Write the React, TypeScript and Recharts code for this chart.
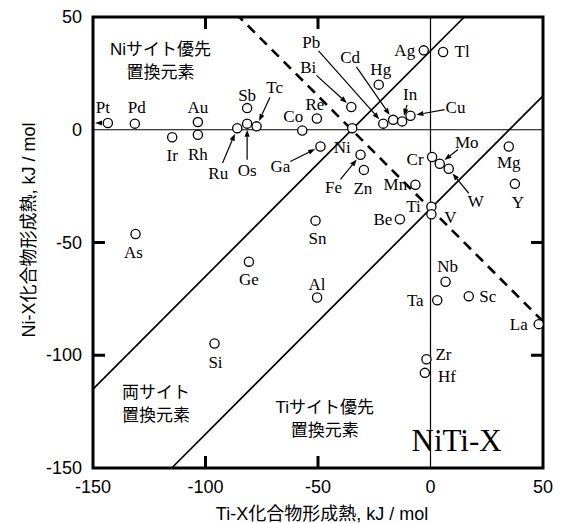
import {
  ScatterChart,
  Scatter,
  XAxis,
  YAxis,
  ReferenceLine,
  ReferenceArea,
  ReferenceDot,
} from "recharts";

// heat of formation, kJ/mol
const elements = [
  "Pt", "Pd", "Au", "Rh", "Ir", "Sb", "Ru", "Os", "Tc", "Co", "Re", "Ga",
  "Bi", "Pb", "Cd", "Hg", "In", "Cu", "Ag", "Tl", "Ni", "Mo", "Cr", "W",
  "Mg", "Fe", "Zn", "Mn", "Ti", "V", "Be", "Sn", "Y", "Nb", "Ta", "Sc",
  "La", "Al", "As", "Ge", "Si", "Zr", "Hf",
];
const tiX = [
  -143.4, -131.4, -103.4, -103.4, -114.8, -81.5, -85.9, -81.5, -77.3, -57.0, -50.5, -48.9,
  -35.2, -21.0, -16.6, -23.0, -12.6, -8.9, -3.0, 5.6, -34.8, 4.1, 0.7, 8.1,
  34.8, -31.1, -29.6, -6.7, 0.4, 0.4, -13.6, -51.1, 37.5, 6.7, 3.0, 17.0,
  48.1, -50.4, -131.1, -80.7, -96.0, -1.8, -2.5,
];
const niX = [
  3.0, 2.7, 3.4, -2.2, -3.3, 9.6, 0.7, 2.7, 1.5, -0.3, 5.0, -7.4,
  10.1, 2.7, 4.4, 20.0, 3.7, 6.2, 35.2, 34.5, 0.7, -15.1, -12.1, -17.3,
  -7.4, -11.1, -17.8, -24.4, -34.1, -37.5, -39.7, -40.3, -24.0, -67.4, -75.6, -73.8,
  -86.2, -74.4, -46.2, -58.5, -94.8, -101.8, -107.8,
];

const axisTicks = [-150, -100, -50, 0, 50];
const innerTicks = [-100, -50];
const LO = -150;
const HI = 50;

// site preference boundaries, y = slope * x + intercept
const boundaries = [
  { slope: 1, intercept: 35, dashed: false },
  { slope: 1, intercept: -35, dashed: false },
  { slope: -1, intercept: -35, dashed: true },
];

const regionNotes = [
  { x: -120, y: 31, lines: ["Niサイト優先", "置換元素"] },
  { x: -122, y: -121, lines: ["両サイト", "置換元素"] },
  { x: -47, y: -128, lines: ["Tiサイト優先", "置換元素"] },
];

// label offset from the circle, in px; true = drawn with an arrow
const labelPlace: Record<string, [number, number, boolean?]> = {
  Pt: [-5, -15], Pd: [2, -16], Au: [0, -15], Rh: [0, 20], Ir: [0, 18],
  Sb: [0, -13], Ru: [-19, 45, true], Os: [0, 47, true], Tc: [18, -39, true],
  Co: [-9, -14], Re: [-2, -14], Ga: [-40, 20, true], Bi: [-43, -39, true],
  Pb: [-72, -81, true], Cd: [-43, -62, true], Hg: [2, -15], In: [8, -27, true],
  Cu: [45, -8, true], Ag: [-19, 0], Tl: [19, 0], Ni: [-10, 19],
  Mo: [27, -21, true], Cr: [-17, 2], W: [27, 33, true], Mg: [0, 16],
  Fe: [-27, 33, true], Zn: [-1, 19], Mn: [-20, 0], Ti: [-18, 0], V: [19, 3],
  Be: [-17, 0], Sn: [2, 18], Y: [3, 19], Nb: [2, -15], Ta: [-22, 0],
  Sc: [19, 0], La: [-20, 0], Al: [0, -13], As: [-2, 19], Ge: [0, 18],
  Si: [1, 19], Zr: [17, -5], Hf: [22, 4],
};

const W = 563;
const H = 523;
const margin = { top: 17, right: 20, bottom: 25, left: 33 };
const PLOT_LEFT = 93;
const TICK_PX = 12;

const SANS = "'Liberation Sans', 'Noto Sans CJK JP', sans-serif";
const SERIF = "'Liberation Serif', serif";

const data = elements.map((name, i) => ({ name, x: tiX[i], y: niX[i] }));

function clip(m: number, b: number) {
  const pts: { x: number; y: number }[] = [];
  for (const x of [LO, HI]) {
    const y = m * x + b;
    if (y >= LO && y <= HI) pts.push({ x, y });
  }
  for (const y of [LO, HI]) {
    const x = (y - b) / m;
    if (x > LO && x < HI) pts.push({ x, y });
  }
  return pts.slice(0, 2);
}

// frame with inward ticks on all four sides
const Frame = (p: any) => {
  const { x, y, width, height } = p;
  const fx = (t: number) => x + ((t - LO) / (HI - LO)) * width;
  const fy = (t: number) => y + height - ((t - LO) / (HI - LO)) * height;
  let d = "";
  innerTicks.forEach((t) => {
    const tx = fx(t);
    const ty = fy(t);
    d += `M${tx},${y + height}v${-TICK_PX}M${tx},${y}v${TICK_PX}`;
    d += `M${x},${ty}h${TICK_PX}M${x + width},${ty}h${-TICK_PX}`;
  });
  return (
    <g>
      <rect x={x} y={y} width={width} height={height} fill="none" stroke="#000" strokeWidth={3} />
      <path d={d} fill="none" stroke="#000" strokeWidth={3} />
    </g>
  );
};

function Arrow({ x1, y1, x2, y2 }: { x1: number; y1: number; x2: number; y2: number }) {
  const len = Math.hypot(x2 - x1, y2 - y1);
  const ux = (x2 - x1) / len;
  const uy = (y2 - y1) / len;
  const bx = x2 - ux * 7;
  const by = y2 - uy * 7;
  return (
    <g>
      <line x1={x1} y1={y1} x2={bx} y2={by} stroke="#000" strokeWidth={1.2} />
      <polygon
        points={`${x2},${y2} ${bx - uy * 2.6},${by + ux * 2.6} ${bx + uy * 2.6},${by - ux * 2.6}`}
        fill="#000"
      />
    </g>
  );
}

const ElementMark = (props: any) => {
  const { cx, cy, payload } = props;
  const [dx, dy, withArrow] = labelPlace[payload.name] || [0, -14];
  const lx = cx + dx;
  const ly = cy + dy;
  let arrow = null;
  if (withArrow) {
    const d = Math.hypot(dx, dy);
    const ux = -dx / d;
    const uy = -dy / d;
    arrow = (
      <Arrow x1={lx + ux * 11} y1={ly + uy * 11} x2={cx - ux * 6} y2={cy - uy * 6} />
    );
  }
  return (
    <g>
      {payload.name === "Pt" && (
        <Arrow x1={cx - 6} y1={cy} x2={PLOT_LEFT + 2} y2={cy} />
      )}
      {arrow}
      <circle cx={cx} cy={cy} r={4.6} fill="#fff" stroke="#000" strokeWidth={1.3} />
      <text
        x={lx}
        y={ly}
        textAnchor="middle"
        dominantBaseline="central"
        fontFamily={SERIF}
        fontSize={17}
        fill="#000"
      >
        {payload.name}
      </text>
    </g>
  );
};

const XTick = ({ x, y, payload }: any) => (
  <text x={x} y={y + 19} textAnchor="middle" dominantBaseline="central" fontFamily={SANS} fontSize={18} fill="#000">
    {payload.value}
  </text>
);

const YTick = ({ x, y, payload }: any) => (
  <text x={x - 11} y={y} textAnchor="end" dominantBaseline="central" fontFamily={SANS} fontSize={18} fill="#000">
    {payload.value}
  </text>
);

const NoteShape = (lines: string[]) => (p: any) => (
  <text x={p.cx} y={p.cy} textAnchor="middle" fontFamily={SANS} fontSize={17} fill="#000">
    {lines.map((t, i) => (
      <tspan key={i} x={p.cx} dy={i === 0 ? -5 : 23}>
        {t}
      </tspan>
    ))}
  </text>
);

export default function App() {
  return (
    <div style={{ position: "absolute", left: 0, top: 0, width: W, height: H, background: "#fff" }}>
      <ScatterChart width={W} height={H} margin={margin}>
        <XAxis
          type="number"
          dataKey="x"
          domain={[LO, HI]}
          ticks={axisTicks}
          interval={0}
          height={30}
          tickSize={0}
          tickMargin={0}
          tickLine={false}
          axisLine={false}
          tick={<XTick />}
          label={{
            content: () => (
              <text x={322} y={514} textAnchor="middle" dominantBaseline="central" fontFamily={SANS} fontSize={18} fill="#000">
                Ti-X化合物形成熱, kJ / mol
              </text>
            ),
          }}
        />
        <YAxis
          type="number"
          dataKey="y"
          domain={[LO, HI]}
          ticks={axisTicks}
          interval={0}
          width={60}
          tickSize={0}
          tickMargin={0}
          tickLine={false}
          axisLine={false}
          tick={<YTick />}
          label={{
            content: () => (
              <text
                x={29}
                y={230}
                transform="rotate(-90 29 230)"
                textAnchor="middle"
                dominantBaseline="central"
                fontFamily={SANS}
                fontSize={18}
                fill="#000"
              >
                Ni-X化合物形成熱, kJ / mol
              </text>
            ),
          }}
        />
        <ReferenceLine x={0} stroke="#000" strokeWidth={1.2} />
        <ReferenceLine y={0} stroke="#000" strokeWidth={1.2} />
        {boundaries.map((b, i) => (
          <ReferenceLine
            key={i}
            segment={clip(b.slope, b.intercept)}
            stroke="#000"
            strokeWidth={b.dashed ? 2.6 : 1.7}
            strokeDasharray={b.dashed ? "10 7" : undefined}
            ifOverflow="visible"
          />
        ))}
        {regionNotes.map((n, i) => (
          <ReferenceDot key={i} x={n.x} y={n.y} r={0} shape={NoteShape(n.lines)} />
        ))}
        <ReferenceDot
          x={11.6}
          y={-138}
          r={0}
          shape={(p: any) => (
            <text x={p.cx} y={p.cy} textAnchor="middle" dominantBaseline="central" fontFamily={SERIF} fontSize={31} fill="#000">
              NiTi-X
            </text>
          )}
        />
        <ReferenceArea x1={LO} x2={HI} y1={LO} y2={HI} ifOverflow="visible" shape={<Frame />} />
        <Scatter data={data} shape={<ElementMark />} isAnimationActive={false} />
      </ScatterChart>
    </div>
  );
}
